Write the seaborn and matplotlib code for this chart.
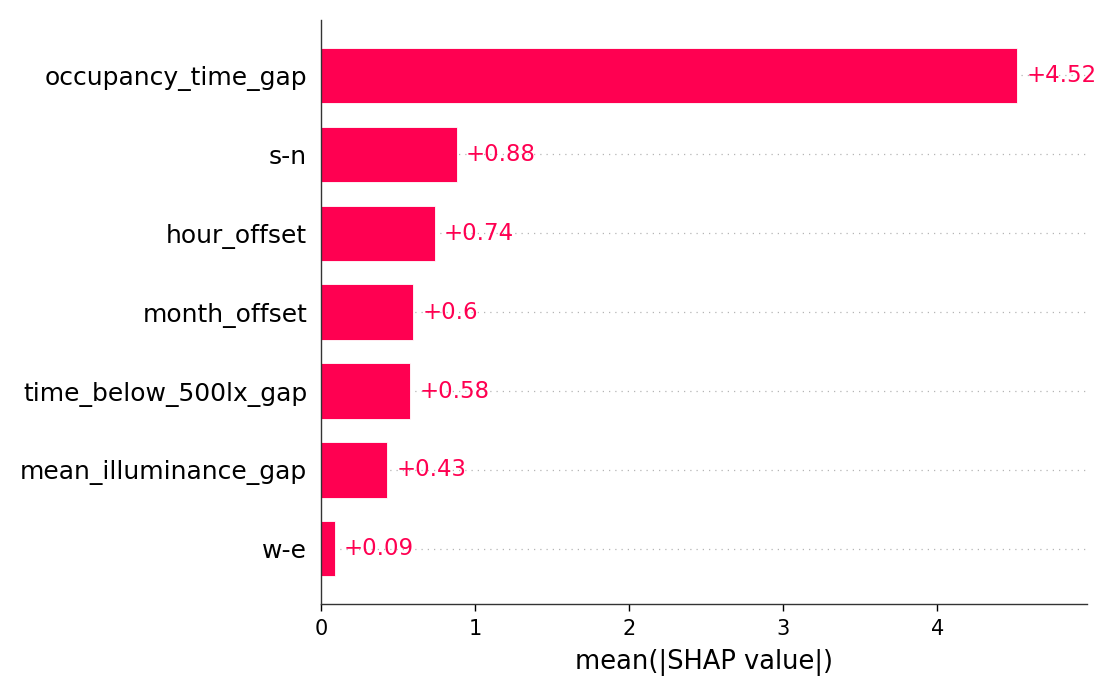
import matplotlib
matplotlib.use("Agg")
import matplotlib.pyplot as plt
import pandas as pd
import seaborn as sns

features = [
    "occupancy_time_gap",
    "s-n",
    "hour_offset",
    "month_offset",
    "time_below_500lx_gap",
    "mean_illuminance_gap",
    "w-e",
]
mean_abs_shap = [4.52, 0.88, 0.74, 0.60, 0.58, 0.43, 0.09]
value_labels = ["+4.52", "+0.88", "+0.74", "+0.6", "+0.58", "+0.43", "+0.09"]

shap_red = "#ff0051"

df = pd.DataFrame({"feature": features, "value": mean_abs_shap})

sns.set_style("white")
plt.rcParams["text.color"] = "black"
fig, ax = plt.subplots(figsize=(11.07, 6.92), dpi=100)
fig.subplots_adjust(left=0.29, right=0.982, top=0.971, bottom=0.127)

# dotted guide lines behind the bars
for i in range(len(features)):
    ax.axhline(i, color="#b5b5b5", lw=0.9, dashes=(1, 4), zorder=-1)

sns.barplot(
    data=df, x="value", y="feature", orient="h",
    color=shap_red, saturation=1, width=0.7, ax=ax,
    edgecolor="white", linewidth=0.6, zorder=2,
)

xmax = max(mean_abs_shap) * 1.1
offset = xmax / 85
for i, (v, lab) in enumerate(zip(mean_abs_shap, value_labels)):
    ax.text(v + offset, i, lab, ha="left", va="center",
            color=shap_red, fontsize=16.5, zorder=3)

ax.set_xlim(0, xmax)
ax.set_ylim(len(features) - 0.3, -0.7)
ax.set_ylabel("")
ax.set_xlabel("mean(|SHAP value|)", fontsize=18.5, color="black", labelpad=7)
ax.set_xticks([0, 1, 2, 3, 4])
ax.tick_params(axis="x", labelsize=15, length=5, width=1, direction="out",
               colors="black", pad=6)
ax.tick_params(axis="y", labelsize=18, length=0, pad=10, labelcolor="black")
ax.xaxis.set_ticks_position("bottom")

for s in ["top", "right"]:
    ax.spines[s].set_visible(False)
for s in ["left", "bottom"]:
    ax.spines[s].set_color("#333333")
    ax.spines[s].set_linewidth(1)

fig.savefig("out.png", dpi=100)
